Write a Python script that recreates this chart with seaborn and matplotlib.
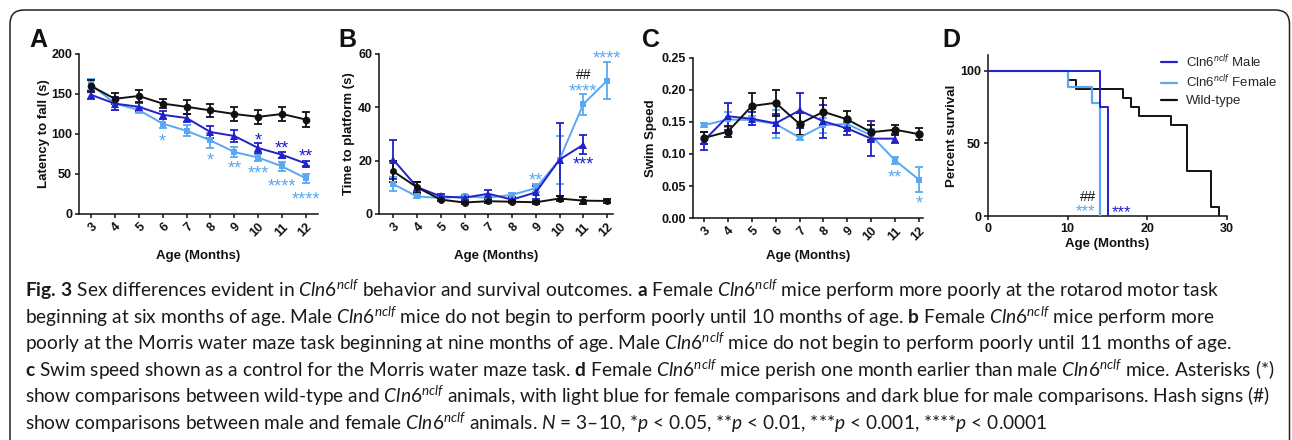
import numpy as np
import pandas as pd
import matplotlib
matplotlib.use("Agg")
import matplotlib.pyplot as plt
import seaborn as sns
from matplotlib.lines import Line2D
from matplotlib.patches import FancyBboxPatch
from matplotlib.transforms import IdentityTransform
from matplotlib.ticker import FormatStrFormatter

# ------------------------------------------------------------------ data
months = [3, 4, 5, 6, 7, 8, 9, 10, 11, 12]
months_male_b = [3, 4, 5, 6, 7, 8, 9, 10, 11]

# A  rotarod (latency to fall, s)
rota_wt = [160, 144, 147.5, 138, 134, 129.5, 125, 121.5, 125, 118]
rota_wt_err = [8, 7, 7, 6, 9, 8, 9, 9, 9, 9]
rota_male = [149, 138, 134, 124, 120, 102.5, 97.5, 82.5, 74, 63]
rota_male_err = [5, 8, 5, 5, 5, 7, 8, 6, 4, 3]
rota_female = [162, 138, 130, 113, 104, 92, 77.5, 70.5, 59.5, 44.5]
rota_female_err = [7, 8, 4, 6, 7, 9, 6, 4, 6, 6]

# B  Morris water maze (time to platform, s)
mwm_wt = [16, 10, 5.4, 4.3, 4.8, 4.6, 4.4, 5.8, 5, 4.9]
mwm_wt_err = [4, 2, 0.7, 0.6, 0.7, 0.6, 0.6, 1, 1.2, 0.7]
mwm_male = [20.4, 10.1, 6.6, 6.1, 7.6, 5.4, 8.1, 20.4, 26]
mwm_male_err = [7.3, 2, 1, 0.8, 1.5, 0.8, 2.5, 13.6, 3.6]
mwm_female = [11.2, 6.6, 6, 6.6, 6.1, 7.2, 9.7, 20.4, 41.2, 50]
mwm_female_err = [2.5, 0.7, 0.6, 0.7, 0.7, 0.8, 1.5, 9, 3.9, 6.9]

# C  swim speed
swim_wt = [0.125, 0.135, 0.175, 0.18, 0.147, 0.166, 0.154, 0.134, 0.138, 0.131]
swim_wt_err = [0.01, 0.008, 0.02, 0.02, 0.017, 0.021, 0.013, 0.012, 0.008, 0.009]
swim_male = [0.121, 0.159, 0.155, 0.148, 0.168, 0.151, 0.14, 0.124, 0.124]
swim_male_err = [0.014, 0.021, 0.01, 0.015, 0.028, 0.026, 0.01, 0.027, 0.007]
swim_female = [0.145, 0.154, 0.153, 0.147, 0.1255, 0.145, 0.147, 0.129, 0.09, 0.06]
swim_female_err = [0.003, 0.012, 0.007, 0.022, 0.004, 0.012, 0.007, 0.01, 0.006, 0.02]

# D  survival (percent)
surv_male_t = [0, 14, 15]
surv_male_p = [100, 75, 0]
surv_female_t = [0, 10, 13, 14]
surv_female_p = [100, 88.9, 77.8, 0]
surv_wt_t = [0, 10, 11, 17, 18, 19, 23, 25, 28, 29]
surv_wt_p = [100, 93.75, 87.5, 81.25, 75, 68.75, 62.5, 31.25, 6.25, 0]

# significance marks (x, y, text)
a_female_marks = ([6, 8, 9, 10, 11, 12], [95, 72, 62, 55, 39, 23], ["*", "*", "**", "***", "****", "****"])
a_male_marks = ([10, 11, 12], [96, 87, 76], ["*", "**", "**"])
b_female_marks = ([9, 11, 12], [14, 47.3, 59.8], ["**", "****", "****"])
b_male_marks = ([11], [20], ["***"])
b_hash_marks = ([11], [52.3], ["##"])
c_female_marks = ([11, 12], [0.069, 0.028], ["**", "*"])
d_female_marks = ([12.25], [5.7], ["***"])
d_male_marks = ([16.7], [5.3], ["***"])
d_hash_marks = ([12.6], [13.3], ["##"])

legend_labels = [r"Cln6$^{\mathit{nclf}}$ Male", r"Cln6$^{\mathit{nclf}}$ Female", "Wild-type"]

caption_lines = [
    r"$\mathbf{Fig.\,3}$ Sex differences evident in $\mathit{Cln6}^{\mathit{nclf}}$ behavior and survival outcomes. "
    r"$\mathbf{a}$ Female $\mathit{Cln6}^{\mathit{nclf}}$ mice perform more poorly at the rotarod motor task",
    r"beginning at six months of age. Male $\mathit{Cln6}^{\mathit{nclf}}$ mice do not begin to perform poorly until 10 months of age. "
    r"$\mathbf{b}$ Female $\mathit{Cln6}^{\mathit{nclf}}$ mice perform more",
    r"poorly at the Morris water maze task beginning at nine months of age. Male $\mathit{Cln6}^{\mathit{nclf}}$ mice do not begin to perform poorly until 11 months of age.",
    r"$\mathbf{c}$ Swim speed shown as a control for the Morris water maze task. $\mathbf{d}$ Female $\mathit{Cln6}^{\mathit{nclf}}$ mice perish one month earlier than male $\mathit{Cln6}^{\mathit{nclf}}$ mice. Asterisks (*)",
    r"show comparisons between wild-type and $\mathit{Cln6}^{\mathit{nclf}}$ animals, with light blue for female comparisons and dark blue for male comparisons. Hash signs (#)",
    r"show comparisons between male and female $\mathit{Cln6}^{\mathit{nclf}}$ animals. $\mathit{N}$ = 3–10, *$\mathit{p}$ < 0.05, **$\mathit{p}$ < 0.01, ***$\mathit{p}$ < 0.001, ****$\mathit{p}$ < 0.0001",
]

# ------------------------------------------------------------------ style
sns.set_theme(style="ticks")
plt.rcParams["font.family"] = ["Liberation Sans", "DejaVu Sans"]
plt.rcParams["mathtext.fontset"] = "custom"
plt.rcParams["mathtext.rm"] = "Lato"
plt.rcParams["mathtext.it"] = "Lato:italic"
plt.rcParams["mathtext.bf"] = "Lato:bold"

DARK = "#2222c8"
LIGHT = "#5aa8f2"
BLACK = "#111111"

W, H = 1292, 440
fig = plt.figure(figsize=(W / 100, H / 100), dpi=100)
fig.patch.set_facecolor("white")


def px_axes(left, top, right, bottom):
    return fig.add_axes([left / W, 1 - bottom / H, (right - left) / W, (bottom - top) / H])


def series(ax, x, y, err, color, marker, ms):
    ax.errorbar(x, y, yerr=err, fmt="none", ecolor=color, elinewidth=1.3,
                capsize=3, capthick=1.3, zorder=2)
    sns.lineplot(x=x, y=y, ax=ax, color=color, marker=marker, markersize=ms,
                 markeredgewidth=0, linewidth=1.4, zorder=3)


def marks(ax, spec, color, size):
    for x, y, s in zip(*spec):
        ax.annotate(s, (x, y), xytext=(0, -3), textcoords="offset points",
                    ha="center", va="center", color=color, fontsize=size,
                    annotation_clip=False)


def style_axes(ax, ylabel, xlabel, ylab_x, xlab_y):
    sns.despine(ax=ax)
    for sp in ("left", "bottom"):
        ax.spines[sp].set_linewidth(1.1)
        ax.spines[sp].set_color(BLACK)
    ax.tick_params(direction="out", length=3, width=1.1, colors=BLACK, pad=2,
                   labelsize=9)
    for lab in ax.get_yticklabels() + ax.get_xticklabels():
        lab.set_fontweight("bold")
    ax.set_ylabel(ylabel, fontsize=9.5, fontweight="bold", color=BLACK)
    ax.set_xlabel(xlabel, fontsize=9.5, fontweight="bold", color=BLACK)
    ax.yaxis.set_label_coords(ylab_x, 0.5)
    ax.xaxis.set_label_coords(0.5, xlab_y)
    ax.set_facecolor("white")
    ax.grid(False)


def month_ticks(ax):
    ax.set_xticks(months)
    ax.set_xticklabels([str(m) for m in months], rotation=45, ha="right",
                       rotation_mode="anchor")


# ---------------- A
axA = px_axes(79, 54, 318, 214)
series(axA, months, rota_female, rota_female_err, LIGHT, "s", 5)
series(axA, months, rota_male, rota_male_err, DARK, "^", 5.5)
series(axA, months, rota_wt, rota_wt_err, BLACK, "o", 5.5)
axA.set_xlim(2.5, 12.5)
axA.set_ylim(0, 200)
axA.set_yticks([0, 50, 100, 150, 200])
month_ticks(axA)
style_axes(axA, "Latency to fall (s)", "Age (Months)", -0.12, -0.225)
marks(axA, a_female_marks, LIGHT, 13)
marks(axA, a_male_marks, DARK, 13)

# ---------------- B
axB = px_axes(379, 54, 613, 214)
series(axB, months, mwm_female, mwm_female_err, LIGHT, "s", 5)
series(axB, months_male_b, mwm_male, mwm_male_err, DARK, "^", 5.5)
series(axB, months, mwm_wt, mwm_wt_err, BLACK, "o", 5)
axB.set_xlim(2.4, 12.25)
axB.set_ylim(0, 60)
axB.set_yticks([0, 20, 40, 60])
month_ticks(axB)
style_axes(axB, "Time to platform (s)", "Age (Months)", -0.103, -0.225)
marks(axB, b_female_marks, LIGHT, 13)
marks(axB, b_male_marks, DARK, 13)
for x, y, s in zip(*b_hash_marks):
    axB.text(x, y, s, ha="center", va="center", color=BLACK, fontsize=10)

# ---------------- C
axC = px_axes(693, 58, 923, 218)
series(axC, months, swim_female, swim_female_err, LIGHT, "s", 5)
series(axC, months_male_b, swim_male, swim_male_err, DARK, "^", 5.5)
series(axC, months, swim_wt, swim_wt_err, BLACK, "o", 6)
axC.set_xlim(2.54, 12.17)
axC.set_ylim(0, 0.25)
axC.set_yticks([0, 0.05, 0.10, 0.15, 0.20, 0.25])
axC.yaxis.set_major_formatter(FormatStrFormatter("%.2f"))
month_ticks(axC)
style_axes(axC, "Swim Speed", "Age (Months)", -0.157, -0.2)
marks(axC, c_female_marks, LIGHT, 13)

# ---------------- D
axD = px_axes(988, 55, 1227, 216)
sns.lineplot(x=surv_wt_t, y=surv_wt_p, ax=axD, color=BLACK, linewidth=1.4,
             drawstyle="steps-post", zorder=2)
sns.lineplot(x=surv_female_t, y=surv_female_p, ax=axD, color=LIGHT, linewidth=1.6,
             drawstyle="steps-post", zorder=3)
sns.lineplot(x=surv_male_t, y=surv_male_p, ax=axD, color=DARK, linewidth=1.4,
             drawstyle="steps-post", zorder=4)
axD.set_xlim(0, 30)
axD.set_ylim(0, 111)
axD.set_xticks([0, 10, 20, 30])
axD.set_yticks([0, 50, 100])
style_axes(axD, "Percent survival", "Age (Months)", -0.126, -0.137)
marks(axD, d_female_marks, LIGHT, 12)
marks(axD, d_male_marks, DARK, 12)
for x, y, s in zip(*d_hash_marks):
    axD.text(x, y, s, ha="center", va="center", color=BLACK, fontsize=10.5)

handles = [Line2D([], [], color=c, lw=1.6) for c in (DARK, LIGHT, BLACK)]
fig.legend(handles, legend_labels, loc="upper left",
           bbox_to_anchor=(1161 / W, 1 - 54 / H), frameon=False, fontsize=9.5,
           handlelength=1.2, handletextpad=0.7, labelspacing=0.35,
           borderpad=0, borderaxespad=0)

# ---------------- panel letters
for letter, x in zip("ABCD", (29, 338, 642, 942)):
    fig.text(x / W, 1 - 47 / H, letter, fontsize=18, fontweight="bold",
             va="baseline", ha="left", color=BLACK)

# ---------------- frame
frame = FancyBboxPatch((10, -30), 1279.5, H - 10 + 30,
                       boxstyle="round,pad=0,rounding_size=14",
                       transform=IdentityTransform(), fill=False,
                       linewidth=1.1, edgecolor="#222222")
fig.add_artist(frame)

# ---------------- caption
baselines = [297, 323.5, 350, 376.5, 403, 429.5]
caps = [fig.text(25 / W, 1 - b / H, s, fontsize=12, family="Lato",
                 va="baseline", ha="left", color="#1a1a1a")
        for s, b in zip(caption_lines, baselines)]
renderer = fig.canvas.get_renderer()
widest = max(c.get_window_extent(renderer).width for c in caps)
fs = 12 * 1245 / widest
for c in caps:
    c.set_fontsize(fs)

fig.savefig("out.png", dpi=100, facecolor="white")
